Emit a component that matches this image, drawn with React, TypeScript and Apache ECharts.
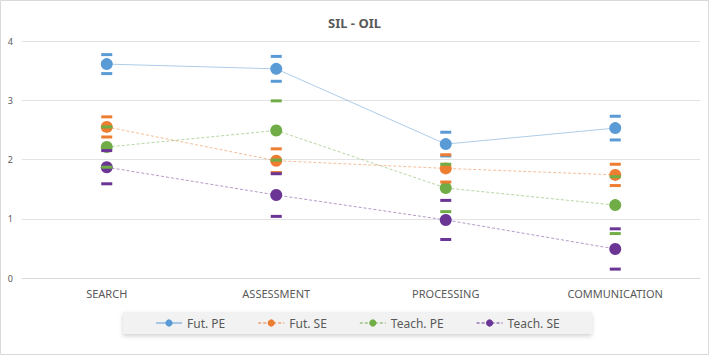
import React, { useEffect, useRef } from "react";
import * as echarts from "echarts";

const categories = ["SEARCH", "ASSESSMENT", "PROCESSING", "COMMUNICATION"];
const seriesNames = ["Fut. PE", "Fut. SE", "Teach. PE", "Teach. SE"];
const futPE = [3.61, 3.53, 2.26, 2.53];
const futPEErr = [0.16, 0.21, 0.2, 0.2];
const futSE = [2.55, 1.98, 1.85, 1.74];
const futSEErr = [0.17, 0.2, 0.23, 0.18];
const teachPE = [2.21, 2.49, 1.52, 1.23];
const teachPEErr = [0.34, 0.5, 0.4, 0.48];
const teachSE = [1.87, 1.4, 0.98, 0.49];
const teachSEErr = [0.28, 0.36, 0.33, 0.34];
const yTicks = [0, 1, 2, 3, 4];

const colors = ["#5b9bd5", "#ed7d31", "#70ad47", "#6a3594"];
const FONT = "'Noto Sans', 'Liberation Sans', sans-serif";

export default function App() {
  const ref = useRef<HTMLDivElement>(null);
  useEffect(() => {
    if (!ref.current) return;
    const chart = echarts.init(ref.current, undefined, { renderer: "svg" });
    const means = [futPE, futSE, teachPE, teachSE];
    const errs = [futPEErr, futSEErr, teachPEErr, teachSEErr];
    const lineSeries = means.map((m, i) => ({
      name: seriesNames[i],
      type: "line",
      data: m,
      symbol: "circle",
      symbolSize: 12,
      z: 2,
      itemStyle: { color: colors[i] },
      lineStyle: {
        color: colors[i],
        width: 1,
        opacity: 0.5,
        type: i === 0 ? "solid" : [3, 2],
      },
    }));
    const capSeries = means.map((m, i) => ({
      name: seriesNames[i] + " err",
      type: "custom",
      z: 5,
      silent: true,
      data: m.map((v, j) => [j, v - errs[i][j], v + errs[i][j]]),
      renderItem: (params: any, api: any) => {
        const x = api.value(0);
        const lo = api.coord([x, api.value(1)]);
        const hi = api.coord([x, api.value(2)]);
        const w = 11;
        const h = 3;
        return {
          type: "group",
          children: [
            { type: "rect", shape: { x: hi[0] - w / 2, y: hi[1] - h / 2, width: w, height: h }, style: { fill: colors[i] } },
            { type: "rect", shape: { x: lo[0] - w / 2, y: lo[1] - h / 2, width: w, height: h }, style: { fill: colors[i] } },
          ],
        };
      },
    }));
    chart.setOption({
      animation: false,
      title: {
        text: "SIL - OIL",
        left: "center",
        top: 11,
        textStyle: { fontFamily: FONT, fontSize: 13, fontWeight: "bold", color: "#595959" },
      },
      grid: { left: 22, right: 9, top: 41, bottom: 77 },
      xAxis: {
        type: "category",
        data: categories,
        boundaryGap: true,
        axisLine: { show: true, lineStyle: { color: "#d9d9d9" } },
        axisTick: { show: false },
        axisLabel: { margin: 10, fontFamily: FONT, fontSize: 11, color: "#595959" },
      },
      yAxis: {
        type: "value",
        min: yTicks[0],
        max: yTicks[yTicks.length - 1],
        interval: 1,
        axisLine: { show: false },
        axisTick: { show: false },
        splitLine: { lineStyle: { color: "#e3e3e3", width: 1 } },
        axisLabel: { margin: 9, fontFamily: FONT, fontSize: 9, color: "#595959" },
      },
      legend: {
        data: seriesNames,
        left: 123,
        top: 312,
        padding: [5, 32],
        itemWidth: 26,
        itemHeight: 9,
        itemGap: 32,
        backgroundColor: "#f2f2f2",
        shadowBlur: 4,
        shadowColor: "rgba(0,0,0,0.18)",
        shadowOffsetY: 2,
        textStyle: { fontFamily: FONT, fontSize: 12, color: "#595959" },
      },
      graphic: [
        {
          type: "rect",
          shape: { x: 0.5, y: 0.5, width: 708, height: 354 },
          style: { fill: "none", stroke: "#d9d9d9", lineWidth: 1 },
          silent: true,
        },
      ],
      series: [...lineSeries, ...capSeries],
    });
    return () => chart.dispose();
  }, []);
  return (
    <div
      ref={ref}
      style={{ position: "absolute", left: 0, top: 0, width: 709, height: 355, background: "#fff" }}
    />
  );
}
